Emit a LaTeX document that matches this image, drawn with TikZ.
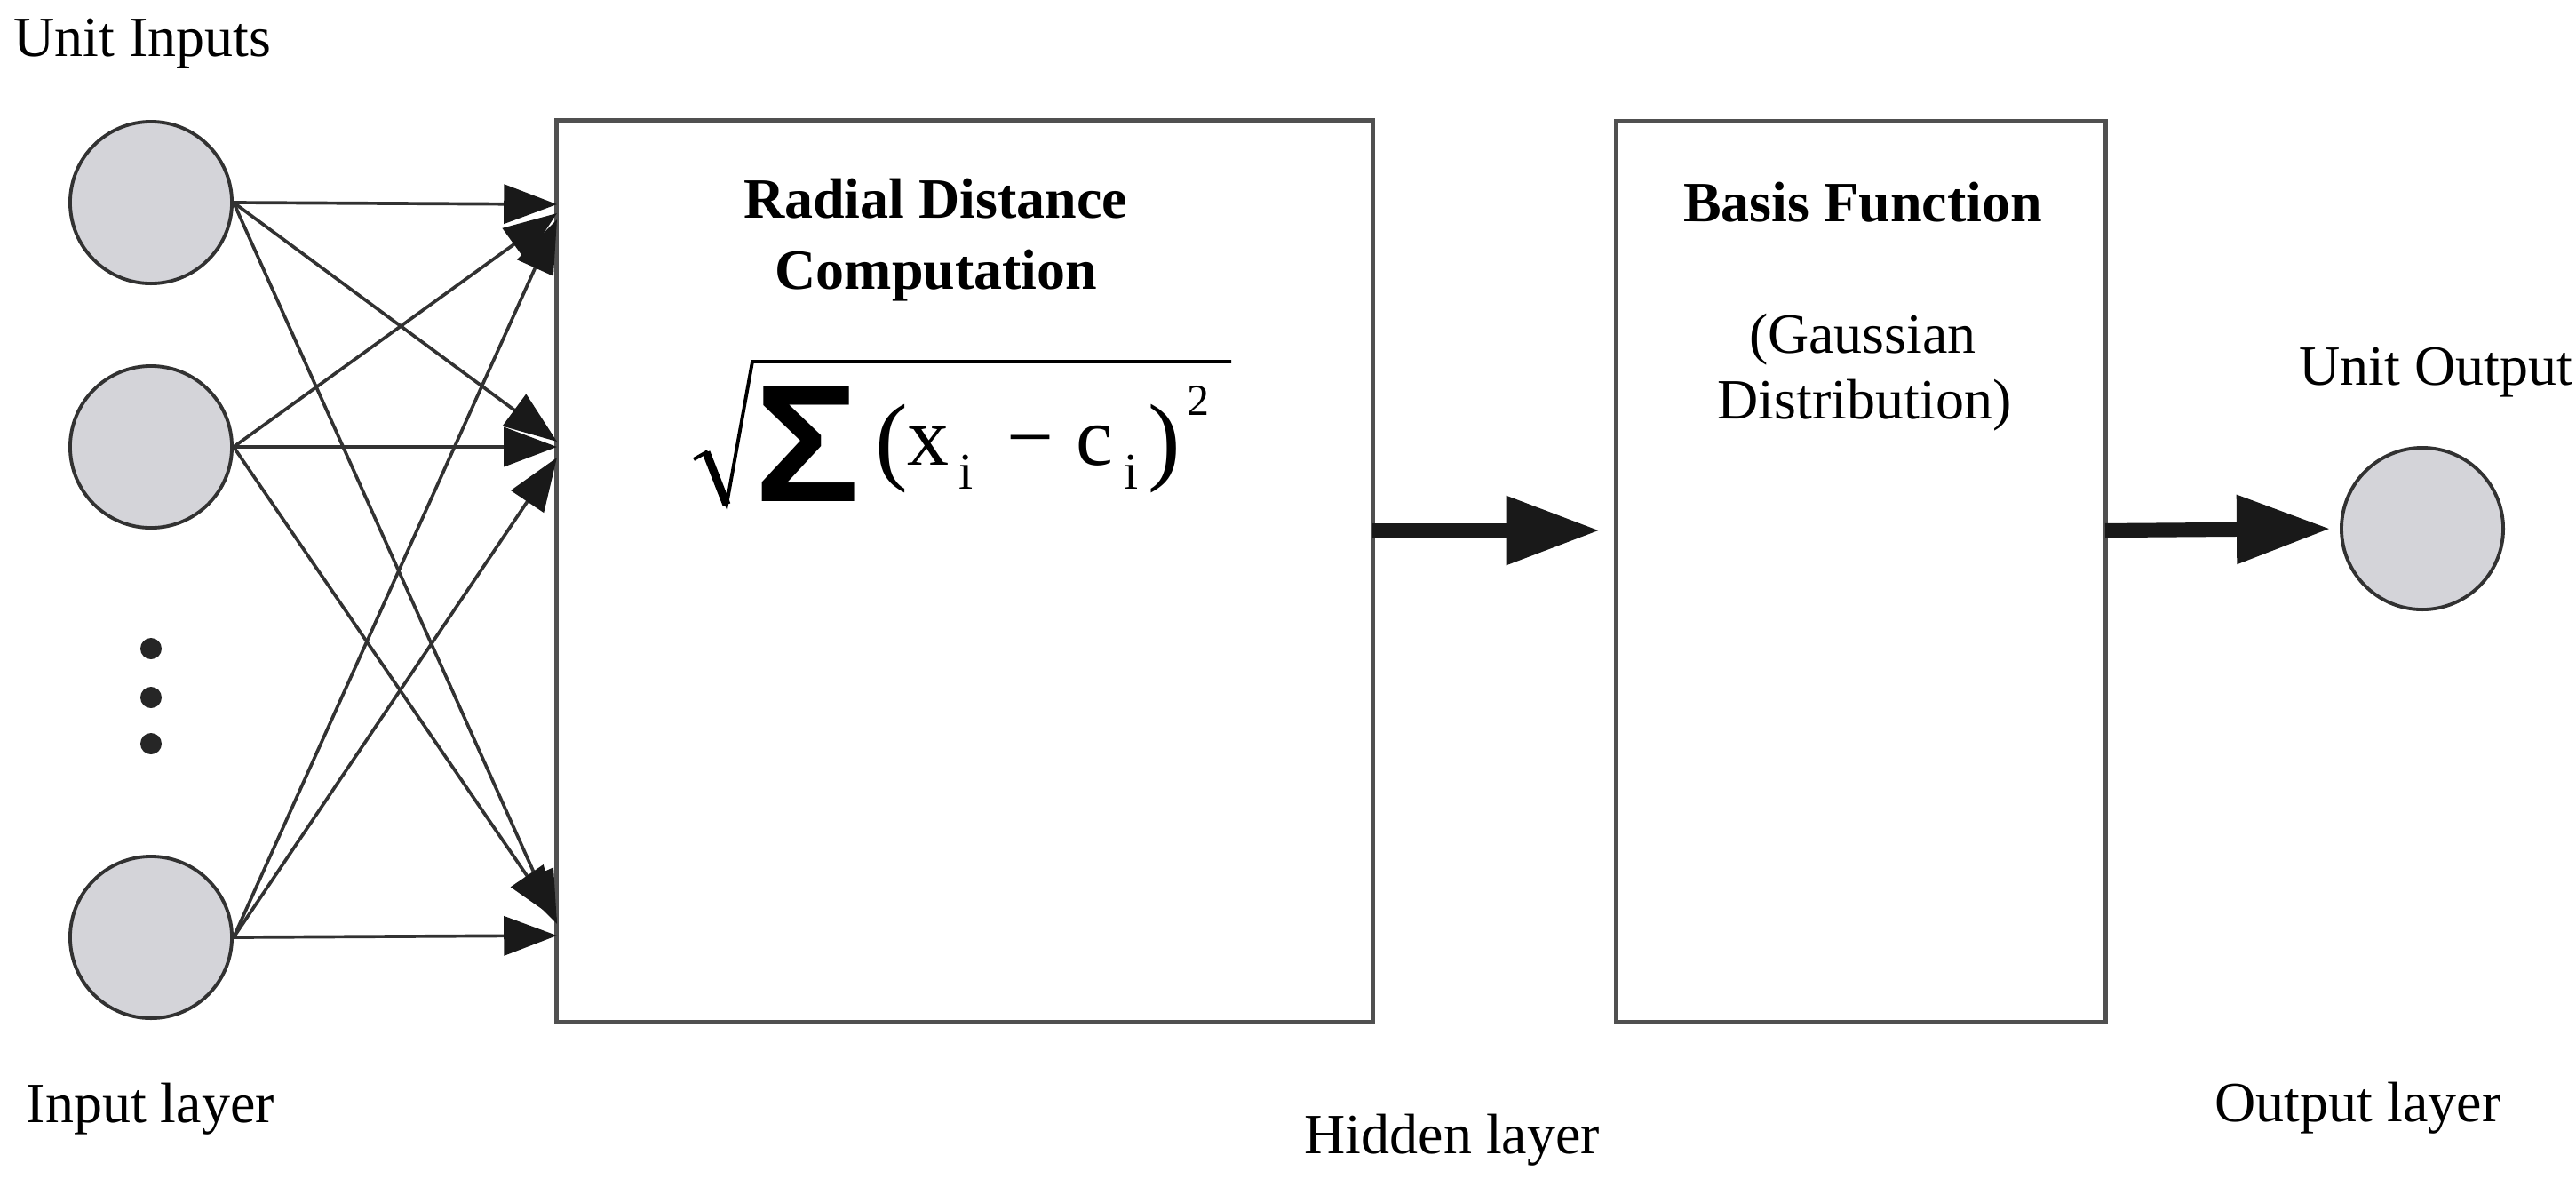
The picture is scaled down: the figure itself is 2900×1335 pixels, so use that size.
\documentclass[tikz,border=0pt]{standalone}
\usepackage{fontspec}
\setmainfont{Liberation Serif}
\setsansfont{Liberation Sans}
\usetikzlibrary{arrows.meta}
\definecolor{unitgray}{RGB}{212,212,217}
\definecolor{edgegray}{RGB}{50,50,50}
\definecolor{boxgray}{RGB}{80,80,80}
\begin{document}
\begin{tikzpicture}[x=0.01cm,y=-0.01cm,
  unit/.style={circle, draw=edgegray, line width=1.1pt, fill=unitgray, minimum size=1.82cm, inner sep=0pt},
  block/.style={draw=boxgray, line width=1.4pt, inner sep=0pt},
  link/.style={draw=edgegray, line width=1.05pt, -{Triangle[length=17pt,width=12.5pt,fill=black!90,color=black!90]}},
  bigarrow/.style={draw=black!90, line width=4.6pt, -{Triangle[length=30pt,width=21pt]}},
  lbl/.style={inner sep=0pt, font=\fontsize{18.2}{22}\selectfont},
  blbl/.style={inner sep=0pt, font=\fontsize{18.2}{22}\selectfont\bfseries},
  fbig/.style={inner sep=0pt, anchor=base west, font=\fontsize{26.7}{30}\selectfont},
  fpar/.style={inner sep=0pt, anchor=base west, font=\fontsize{31.3}{34}\selectfont},
  fsub/.style={inner sep=0pt, anchor=base west, font=\fontsize{16.5}{19}\selectfont},
  fsup/.style={inner sep=0pt, anchor=base west, font=\fontsize{14.2}{17}\selectfont}]
\useasboundingbox (0,0) rectangle (2900,1335);
% units
\node[unit] (in1) at (170,228) {};
\node[unit] (in2) at (170,503) {};
\node[unit] (in3) at (170,1055) {};
\node[unit] (out) at (2727,595) {};
\fill[black!85] (170,730) circle (12) (170,785) circle (12) (170,837) circle (12);
% blocks
\node[block, minimum width=9.18cm, minimum height=10.14cm] (rd) at (1086,643) {};
\node[block, minimum width=5.5cm, minimum height=10.13cm] (bf) at (2095,643.5) {};
% entry points on the first block
\coordinate (a1) at (627,230);
\coordinate (a2) at (627,240);
\coordinate (a3) at (627,247);
\coordinate (b1) at (627,497);
\coordinate (b2) at (627,503);
\coordinate (b3) at (627,515);
\coordinate (c1) at (627,1040);
\coordinate (c2) at (627,1035);
\coordinate (c3) at (627,1053);
\draw[link] (in1.east) -- (a1);
\draw[link] (in1.east) -- (b1);
\draw[link] (in1.east) -- (c1);
\draw[link] (in2.east) -- (a2);
\draw[link] (in2.east) -- (b2);
\draw[link] (in2.east) -- (c2);
\draw[link] (in3.east) -- (a3);
\draw[link] (in3.east) -- (b3);
\draw[link] (in3.east) -- (c3);
% thick arrows
\coordinate (h1) at (1545,597);
\coordinate (h2) at (1801,597);
\coordinate (h3) at (2370,597);
\draw[bigarrow] (h1) -- (h2);
\draw[bigarrow, shorten >=3pt] (h3) -- (out.west);
% texts
\node[lbl, anchor=base west] (tin) at (15,63) {Unit Inputs};
\node[lbl, anchor=base west] (til) at (29,1263) {Input layer};
\node[lbl, anchor=base west] (thl) at (1468,1298) {Hidden layer};
\node[lbl, anchor=base west] (tol) at (2493,1262) {Output layer};
\node[lbl, anchor=base west] (tuo) at (2588,433) {Unit Output};
\node[blbl, anchor=base] (rd1) at (1053,245) {Radial Distance};
\node[blbl, anchor=base] (rd2) at (1054,325) {Computation};
\node[blbl, anchor=base] (bf1) at (2097,249) {Basis Function};
\node[lbl, anchor=base] (bf2) at (2097,397) {(Gaussian};
\node[lbl, anchor=base] (bf3) at (2099,471) {Distribution)};
% formula
\draw[black, line width=1.1pt, line join=miter] (781,517) -- (795,509) -- (818,568) -- (847,407) -- (1386,407);
\draw[black, line width=2.6pt, line cap=butt] (795,509) -- (818,568);
\node[inner sep=0pt, anchor=base west, font=\fontsize{53.5}{58}\sffamily\bfseries] (fsig) at (849,564) {\scalebox{1.05}[1]{Σ}};
\node[fpar] (fpl) at (985,531) {(};
\node[fbig] (fx) at (1021,523) {x};
\node[fsub] (fi1) at (1079,550) {i};
\node[inner sep=0pt, anchor=base, font=\fontsize{26.7}{30}\selectfont] (fmin) at (1160,523) {−};
\node[fbig] (fc) at (1211,523) {c};
\node[fsub] (fi2) at (1265,550) {i};
\node[fpar] (fpr) at (1292,531) {)};
\node[fsup] (ftwo) at (1336,467) {2};
\end{tikzpicture}
\end{document}
